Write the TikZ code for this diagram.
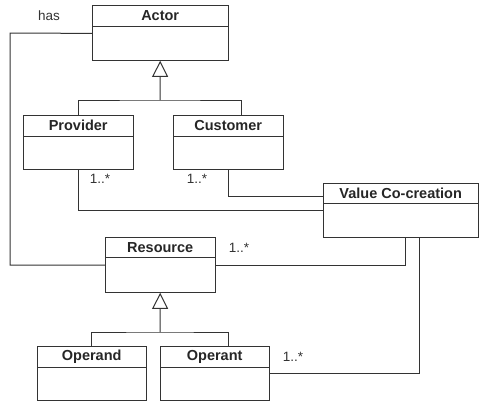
\documentclass[tikz,border=0pt]{standalone}
\usepackage{fontspec}
\setmainfont{Liberation Sans}
\usetikzlibrary{arrows.meta}
\begin{document}
\begin{tikzpicture}[x=1pt,y=-1pt,
  line/.style={draw=black!80, line width=1pt},
  hd/.style={anchor=north west, inner sep=0pt, minimum height=21pt, text=black!85, font=\bfseries\fontsize{14.5}{14.5}\selectfont},
  bd/.style={anchor=north west, inner sep=0pt, minimum height=33pt},
  lbl/.style={inner sep=0pt, text=black!80, font=\fontsize{13.5}{13.5}\selectfont},
  gen/.style={line, -{Triangle[open, length=16pt, width=16pt, fill=white]}}]
\useasboundingbox (0,0) rectangle (479,402);
% classes
\node[hd, minimum width=136pt] (actorh) at (92,5) {Actor};
\node[bd, minimum width=136pt, minimum height=34pt] (actor) at (actorh.south west) {};
\node[hd, minimum width=110pt] (provh) at (23,115) {Provider};
\node[bd, minimum width=110pt] (prov) at (provh.south west) {};
\node[hd, minimum width=110pt] (custh) at (173,115) {Customer};
\node[bd, minimum width=110pt] (cust) at (custh.south west) {};
\node[hd, minimum width=155pt, minimum height=20pt] (valueh) at (323,183) {Value Co-creation};
\node[bd, minimum width=155pt, minimum height=34pt] (value) at (valueh.south west) {};
\node[hd, minimum width=110pt, minimum height=20pt] (resh) at (105,237) {Resource};
\node[bd, minimum width=110pt, minimum height=35pt] (res) at (resh.south west) {};
\node[hd, minimum width=109pt] (opdh) at (37,346) {Operand};
\node[bd, minimum width=109pt] (opd) at (opdh.south west) {};
\node[hd, minimum width=109pt] (opth) at (160,346) {Operant};
\node[bd, minimum width=109pt] (opt) at (opth.south west) {};
% class outlines and separators (one stroke each)
\foreach \c in {actor,prov,cust,value,res,opd,opt}{
  \draw[line] (\c h.north west) rectangle (\c.south east);
  \draw[line] (\c.north west) -- (\c.north east);
}
% junctions
\coordinate (j1) at (160,100);
\coordinate (j2) at (160,332);
\coordinate (h1) at (10,33);
\coordinate (h2) at (10,265);
% generalizations
\draw[gen] (j1) -- (actor.south);
\draw[line] (provh.north) |- (j1) -| ([xshift=13pt]custh.north);
\draw[gen] (j2) -- (res.south);
\draw[line] (opdh.north) |- (j2) -| ([xshift=13.5pt]opth.north);
% associations
\draw[line] ([yshift=-7pt]actor.north west) -- (h1) -- (h2) -- (res.west |- h2);
\draw[line] (res.east |- h2) -| ([xshift=4.5pt]value.south);
\draw[line] (prov.south) |- ([yshift=-7pt]value.north west);
\draw[line] (cust.south) |- ([yshift=-3pt]valueh.west);
\draw[line] ([yshift=-6pt]opt.north east) -| ([xshift=18.5pt]value.south);
% labels
\node[lbl] (lhas) at (49,16) {has};
\node[lbl] (l1) at (100,179) {1..*};
\node[lbl] (l2) at (197,179) {1..*};
\node[lbl] (l3) at (239,248) {1..*};
\node[lbl] (l4) at (293,357) {1..*};
\end{tikzpicture}
\end{document}
